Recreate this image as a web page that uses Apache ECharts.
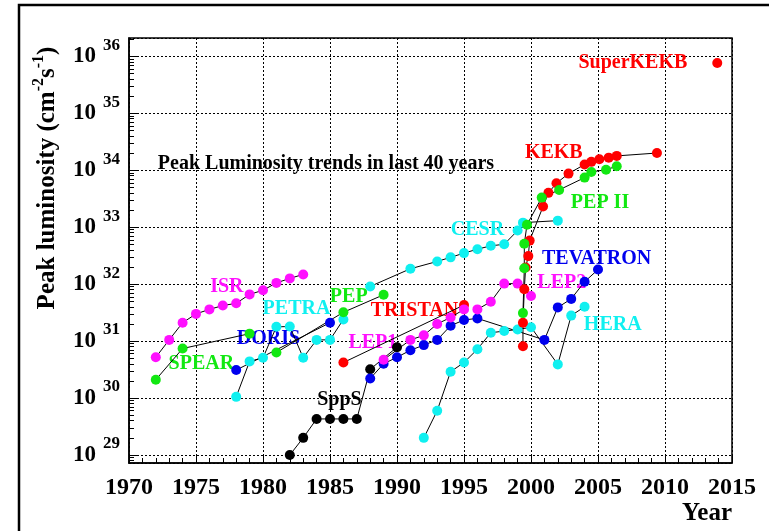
<!DOCTYPE html>
<html>
<head>
<meta charset="utf-8">
<title>Peak Luminosity trends</title>
<script src="https://cdn.jsdelivr.net/npm/echarts@6/dist/echarts.min.js"></script>
<style>
  html, body { margin: 0; padding: 0; background: #ffffff; }
  #chart { width: 769px; height: 531px; }
</style>
</head>
<body>
<div id="chart"></div>
<script>
// ---- Peak luminosity per collider (year, cm^-2 s^-1) ----
const ISR_YEAR = [1972, 1973, 1974, 1975, 1976, 1977, 1978, 1979, 1980, 1981, 1982, 1983];
const ISR_LUM = [5.2e30, 1.05e31, 2.1e31, 3.0e31, 3.6e31, 4.2e31, 4.6e31, 6.6e31, 7.8e31, 1.05e32, 1.26e32, 1.48e32];

const SPEAR_YEAR = [1972, 1974, 1979];
const SPEAR_LUM = [2.1e30, 7.4e30, 1.35e31];

const PETRA_YEAR = [1978, 1979, 1980, 1981, 1982, 1983, 1984, 1985, 1986];
const PETRA_LUM = [1.05e30, 4.4e30, 5.1e30, 1.78e31, 1.8e31, 5.1e30, 1.05e31, 1.05e31, 2.4e31];

const DORIS_YEAR = [1978, 1985];
const DORIS_LUM = [3.1e30, 2.1e31];

const PEP_YEAR = [1981, 1986, 1989];
const PEP_LUM = [6.3e30, 3.2e31, 6.5e31];

const CESR_YEAR = [1988, 1991, 1993, 1994, 1995, 1996, 1997, 1998, 1999, 1999.4, 2002];
const CESR_LUM = [9.1e31, 1.86e32, 2.5e32, 2.95e32, 3.5e32, 4.1e32, 4.7e32, 5.0e32, 8.7e32, 1.2e33, 1.3e33];

const SPPS_YEAR = [1982, 1983, 1984, 1985, 1986, 1987, 1988, 1990];
const SPPS_LUM = [1.0e29, 2.0e29, 4.3e29, 4.3e29, 4.3e29, 4.3e29, 3.2e30, 7.8e30];

const TRISTAN_YEAR = [1986, 1995];
const TRISTAN_LUM = [4.2e30, 4.3e31];

const TEVATRON_YEAR = [1988, 1989, 1990, 1991, 1992, 1993, 1994, 1995, 1996, 2001, 2002, 2003, 2004, 2005];
const TEVATRON_LUM = [2.2e30, 4.0e30, 5.2e30, 6.9e30, 8.5e30, 1.05e31, 1.86e31, 2.35e31, 2.5e31, 1.05e31, 3.9e31, 5.5e31, 1.1e32, 1.8e32];

const LEP1_YEAR = [1989, 1991, 1992, 1993, 1994, 1995];
const LEP1_LUM = [4.7e30, 1.05e31, 1.26e31, 2.0e31, 2.6e31, 3.6e31];

const LEP2_YEAR = [1996, 1997, 1998, 1999, 2000];
const LEP2_LUM = [3.6e31, 4.9e31, 1.02e32, 1.02e32, 6.2e31];

const HERA_YEAR = [1992, 1993, 1994, 1995, 1996, 1997, 1998, 1999, 2000, 2002, 2003, 2004];
const HERA_LUM = [2.0e29, 6.0e29, 2.9e30, 4.2e30, 7.2e30, 1.4e31, 1.5e31, 1.6e31, 1.75e31, 3.9e30, 2.8e31, 4.0e31];

const KEKB_YEAR = [1999.4, 1999.4, 1999.5, 1999.6, 1999.8, 1999.9, 2000.9, 2001.3, 2001.9, 2002.8, 2004.0, 2004.5, 2005.1, 2005.8, 2006.4, 2009.4];
const KEKB_LUM = [8.1e30, 2.1e31, 8.1e31, 1.95e32, 3.1e32, 5.8e32, 2.3e33, 4.0e33, 5.9e33, 8.7e33, 1.26e34, 1.4e34, 1.55e34, 1.66e34, 1.78e34, 2.0e34];

const PEPII_YEAR = [1999.4, 1999.5, 1999.5, 1999.7, 2000.8, 2002.1, 2004.0, 2004.5, 2005.6, 2006.4];
const PEPII_LUM = [3.1e31, 1.9e32, 5.1e32, 1.1e33, 3.3e33, 4.5e33, 7.4e33, 9.3e33, 1.02e34, 1.17e34];

const SUPERKEKB_YEAR = [2013.9];
const SUPERKEKB_LUM = [7.6e35];

// Axis ranges and titles
const YEAR_MIN = 1970, YEAR_MAX = 2015, YEAR_STEP = 5;
const LUM_MIN = Math.pow(10, 28.86), LUM_MAX = Math.pow(10, 36.32);
const Y_TITLE = 'Peak luminosity (cm{s|-2}s{s|-1})';
const X_TITLE = 'Year';
const PLOT_NOTE = 'Peak Luminosity trends in last 40 years';

// ---- styling ----
const FONT = '"Liberation Serif", "Times New Roman", serif';
const C = {
  magenta: '#ff10ff', green: '#12e812', cyan: '#10f0f0',
  blue: '#0000ee', red: '#ff0000', black: '#000000'
};

function collider(name, years, lum, color) {
  return {
    type: 'line', name: name,
    data: years.map((y, i) => [y, lum[i]]),
    symbol: 'circle', symbolSize: 10, showSymbol: true,
    itemStyle: { color: color, opacity: 1 },
    lineStyle: { color: '#000', width: 1 },
    z: 3, silent: true, animation: false
  };
}

const series = [
  collider('ISR', ISR_YEAR, ISR_LUM, C.magenta),
  collider('SPEAR', SPEAR_YEAR, SPEAR_LUM, C.green),
  collider('PETRA', PETRA_YEAR, PETRA_LUM, C.cyan),
  collider('DORIS', DORIS_YEAR, DORIS_LUM, C.blue),
  collider('PEP', PEP_YEAR, PEP_LUM, C.green),
  collider('CESR', CESR_YEAR, CESR_LUM, C.cyan),
  collider('SppS', SPPS_YEAR, SPPS_LUM, C.black),
  collider('TRISTAN', TRISTAN_YEAR, TRISTAN_LUM, C.red),
  collider('TEVATRON', TEVATRON_YEAR, TEVATRON_LUM, C.blue),
  collider('LEP1', LEP1_YEAR, LEP1_LUM, C.magenta),
  collider('LEP2', LEP2_YEAR, LEP2_LUM, C.magenta),
  collider('HERA', HERA_YEAR, HERA_LUM, C.cyan),
  collider('KEKB', KEKB_YEAR, KEKB_LUM, C.red),
  collider('PEP II', PEPII_YEAR, PEPII_LUM, C.green),
  collider('SuperKEKB', SUPERKEKB_YEAR, SUPERKEKB_LUM, C.red)
];

// Collider names placed in data coordinates next to their curves
const annotations = [
  { text: 'SuperKEKB', at: [2007.6, Math.pow(10, 35.88)], color: C.red },
  { text: 'KEKB', at: [2001.7, Math.pow(10, 34.30)], color: C.red },
  { text: PLOT_NOTE, at: [1984.7, Math.pow(10, 34.11)], color: C.black },
  { text: 'PEP II', at: [2005.15, Math.pow(10, 33.43)], color: C.green },
  { text: 'CESR', at: [1996.0, Math.pow(10, 32.95)], color: C.cyan },
  { text: 'TEVATRON', at: [2004.9, Math.pow(10, 32.44)], color: C.blue },
  { text: 'ISR', at: [1977.3, Math.pow(10, 31.96)], color: C.magenta },
  { text: 'LEP2', at: [2002.3, Math.pow(10, 32.02)], color: C.magenta },
  { text: 'PEP', at: [1986.4, Math.pow(10, 31.77)], color: C.green },
  { text: 'PETRA', at: [1982.5, Math.pow(10, 31.56)], color: C.cyan },
  { text: 'TRISTAN', at: [1991.3, Math.pow(10, 31.53)], color: C.red },
  { text: 'HERA', at: [2006.1, Math.pow(10, 31.29)], color: C.cyan },
  { text: 'DORIS', at: [1980.4, Math.pow(10, 31.04)], color: C.blue },
  { text: 'LEP1', at: [1988.2, Math.pow(10, 30.97)], color: C.magenta },
  { text: 'SPEAR', at: [1975.4, Math.pow(10, 30.60)], color: C.green },
  { text: 'SppS', at: [1985.7, Math.pow(10, 29.97)], color: C.black }
];

series.unshift({
  type: 'scatter', name: 'names',
  data: annotations.map(a => ({
    value: a.at,
    label: { formatter: a.text, color: a.color }
  })),
  symbolSize: 1,
  itemStyle: { color: 'rgba(0,0,0,0)', opacity: 1 },
  label: {
    show: true, position: 'inside', opacity: 1,
    textBorderWidth: 0,
    fontFamily: FONT, fontWeight: 'bold', fontSize: 20
  },
  z: 1, silent: true, animation: false
});

// log-spaced minor tick positions (2..9 x 10^n)
const minorLogTicks = [];
for (let n = 28; n <= 36; n++) {
  for (let k = 2; k <= 9; k++) {
    const v = k * Math.pow(10, n);
    if (v > LUM_MIN && v < LUM_MAX) minorLogTicks.push(v);
  }
}

const chart = echarts.init(document.getElementById('chart'), null, { renderer: 'canvas' });

chart.setOption({
  animation: false,
  backgroundColor: '#ffffff',
  grid: {
    left: 129, right: 37, top: 38, bottom: 68,
    show: true, borderColor: '#000', borderWidth: 1.5,
    backgroundColor: 'transparent'
  },
  xAxis: {
    type: 'value', min: YEAR_MIN, max: YEAR_MAX, interval: YEAR_STEP,
    axisLine: { show: true, lineStyle: { color: '#000', width: 1.5 } },
    axisTick: { show: true, inside: true, length: 9, lineStyle: { color: '#000', width: 1 } },
    minorTick: { show: true, splitNumber: 5, length: 5, lineStyle: { color: '#000', width: 1 } },
    splitLine: { show: true, lineStyle: { color: '#000', width: 1, type: [2, 2] } },
    axisLabel: {
      color: '#000', fontFamily: FONT, fontWeight: 'bold', fontSize: 24, margin: 13,
      formatter: v => String(v)
    }
  },
  yAxis: [
    {
      type: 'log', logBase: 10, min: LUM_MIN, max: LUM_MAX,
      axisLine: { show: true, lineStyle: { color: '#000', width: 1.5 } },
      axisTick: { show: true, inside: true, length: 9, lineStyle: { color: '#000', width: 1 } },
      splitLine: { show: true, lineStyle: { color: '#000', width: 1, type: [2, 2] } },
      axisLabel: {
        showMinLabel: false, showMaxLabel: false, margin: 9,
        formatter: v => '{b|10}{e|' + Math.round(Math.log10(v)) + '}',
        rich: {
          b: { fontFamily: FONT, fontWeight: 'bold', fontSize: 23, color: '#000' },
          e: { fontFamily: FONT, fontWeight: 'bold', fontSize: 17, color: '#000', padding: [0, 0, 22, 7] }
        }
      }
    },
    {
      type: 'log', logBase: 10, min: LUM_MIN, max: LUM_MAX, position: 'left',
      axisLine: { show: false },
      axisLabel: { show: false },
      splitLine: { show: false },
      axisTick: { show: true, inside: true, length: 5, customValues: minorLogTicks, lineStyle: { color: '#000', width: 1 } }
    }
  ],
  graphic: [
    {
      type: 'rect', silent: true,
      shape: { x: 19, y: 5, width: 820, height: 600 },
      style: { fill: 'none', stroke: '#000', lineWidth: 2.5 }
    },
    {
      type: 'text', silent: true, x: 48, y: 178, rotation: Math.PI / 2,
      style: {
        text: Y_TITLE,
        fill: '#000', font: 'bold 25px ' + FONT,
        textAlign: 'center', textVerticalAlign: 'middle',
        align: 'center', verticalAlign: 'middle',
        rich: {
          s: { fontFamily: FONT, fontWeight: 'bold', fontSize: 16, fill: '#000', padding: [0, 0, 18, 0] }
        }
      }
    },
    {
      type: 'text', silent: true, x: 732, y: 514,
      style: {
        text: X_TITLE, fill: '#000', font: 'bold 25px ' + FONT,
        textAlign: 'right', textVerticalAlign: 'middle',
        align: 'right', verticalAlign: 'middle'
      }
    }
  ],
  series: series
});
</script>
</body>
</html>
